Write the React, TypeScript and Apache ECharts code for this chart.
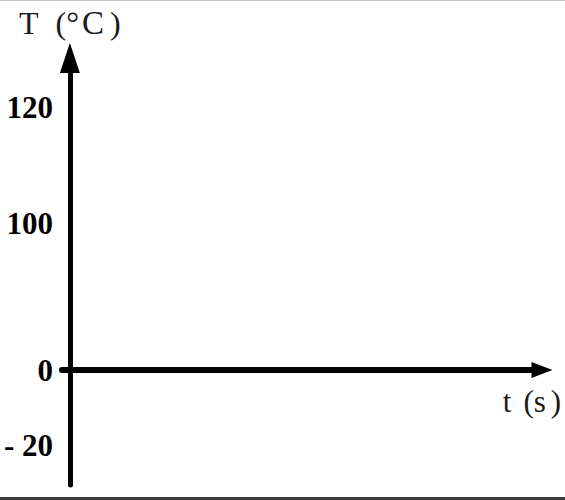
import React, { useEffect, useRef } from "react";
import * as echarts from "echarts";

// Temperature ticks shown on the vertical axis
const yTickValues = [-20, 0, 100, 120];
const yTickLabels = ["- 20", "0", "100", "120"];
// Axis titles (rich-text tokens so the letter spacing of the scan can be imitated)
const yAxisTitle = "{a|T}{p|(}{d|°}{c|C}{q|)}";
const xAxisTitle = "{a|t}{p|(}{s|s}{q|)}";
// Time axis range (no data is plotted: blank template)
const xRange = [-1, 60];
const seriesData: number[][] = [];

// The reference's vertical scale is not uniform: each interval between
// consecutive ticks has its own drawn length (axis units).
const segmentLengths = [75, 146.5, 116.5];
const axisBelow = -115;
const axisAbove = 312;

function toAxis(v: number): number {
  const zeroIdx = yTickValues.indexOf(0);
  const pos: number[] = [];
  pos[zeroIdx] = 0;
  for (let i = zeroIdx + 1; i < yTickValues.length; i++) pos[i] = pos[i - 1] + segmentLengths[i - 1];
  for (let i = zeroIdx - 1; i >= 0; i--) pos[i] = pos[i + 1] - segmentLengths[i];
  if (v <= yTickValues[0]) {
    const s = (pos[1] - pos[0]) / (yTickValues[1] - yTickValues[0]);
    return pos[0] + (v - yTickValues[0]) * s;
  }
  for (let i = 0; i < yTickValues.length - 1; i++) {
    if (v >= yTickValues[i] && v <= yTickValues[i + 1]) {
      const t = (v - yTickValues[i]) / (yTickValues[i + 1] - yTickValues[i]);
      return pos[i] + t * (pos[i + 1] - pos[i]);
    }
  }
  const n = yTickValues.length - 1;
  const s = (pos[n] - pos[n - 1]) / (yTickValues[n] - yTickValues[n - 1]);
  return pos[n] + (v - yTickValues[n]) * s;
}

const FONT = "'Liberation Serif', 'Times New Roman', serif";

function tok(fontSize: number, pad: number[], lineHeight?: number) {
  return {
    fontFamily: FONT,
    fontSize,
    color: "#1a1a1a",
    padding: pad,
    ...(lineHeight ? { lineHeight } : {}),
  };
}

export default function App() {
  const ref = useRef<HTMLDivElement>(null);
  useEffect(() => {
    if (!ref.current) return;
    const chart = echarts.init(ref.current, undefined, { renderer: "svg" });
    const tickPositions = yTickValues.map(toAxis);
    chart.setOption({
      animation: false,
      backgroundColor: "#ffffff",
      grid: {
        left: 62,
        right: 23,
        top: 58,
        bottom: 15,
        containLabel: false,
        outerBoundsMode: "none",
      },
      xAxis: {
        type: "value",
        min: xRange[0],
        max: xRange[1],
        name: xAxisTitle,
        nameLocation: "end",
        nameGap: -10,
        nameTextStyle: {
          fontFamily: FONT,
          fontSize: 31,
          color: "#1a1a1a",
          align: "center",
          verticalAlign: "top",
          lineHeight: 62,
          rich: {
            a: tok(31, [0, 0, 0, 0], 62),
            p: tok(31, [0, 0, 0, 12], 62),
            s: tok(31, [0, 0, 0, 0], 62),
            q: tok(31, [0, 0, 0, 5], 62),
          },
        },
        axisLine: {
          show: true,
          onZero: true,
          symbol: ["none", "triangle"],
          symbolSize: [16, 21],
          lineStyle: { color: "#000", width: 6 },
        },
        axisTick: { show: false },
        axisLabel: { show: false },
        splitLine: { show: false },
      },
      yAxis: {
        type: "value",
        min: axisBelow,
        max: axisAbove,
        name: yAxisTitle,
        nameLocation: "end",
        nameGap: 35,
        nameTextStyle: {
          fontFamily: FONT,
          fontSize: 32,
          color: "#1a1a1a",
          align: "center",
          verticalAlign: "middle",
          rich: {
            a: tok(32, [0, 0, 0, 0]),
            p: tok(32, [0, 0, 0, 17]),
            d: tok(32, [0, 0, 0, 0]),
            c: tok(33, [0, 6, 0, 3]),
            q: tok(32, [0, 0, 0, 0]),
          },
        },
        axisLine: {
          show: true,
          onZero: true,
          symbol: ["none", "triangle"],
          symbolSize: [20, 30],
          lineStyle: { color: "#000", width: 5 },
        },
        axisTick: { show: false },
        splitLine: { show: false },
        axisLabel: {
          show: true,
          customValues: tickPositions,
          margin: 9,
          fontFamily: FONT,
          fontSize: 31,
          fontWeight: "bold",
          color: "#000",
          formatter: (val: number) => {
            const i = tickPositions.findIndex((p) => Math.abs(p - val) < 1e-6);
            return i >= 0 ? yTickLabels[i] : "";
          },
        },
      },
      series: [{ type: "line", data: seriesData, silent: true }],
    });
    return () => chart.dispose();
  }, []);
  return (
    <div style={{ position: "fixed", left: 0, top: 0, width: 565, height: 500, background: "#fff" }}>
      <div ref={ref} style={{ width: 565, height: 500 }} />
      <div
        style={{
          position: "absolute",
          left: 0,
          top: 0,
          width: 565,
          height: 500,
          boxSizing: "border-box",
          borderTop: "1px solid #c8c8c8",
          borderBottom: "3px solid #3a3a3a",
          pointerEvents: "none",
        }}
      />
    </div>
  );
}
